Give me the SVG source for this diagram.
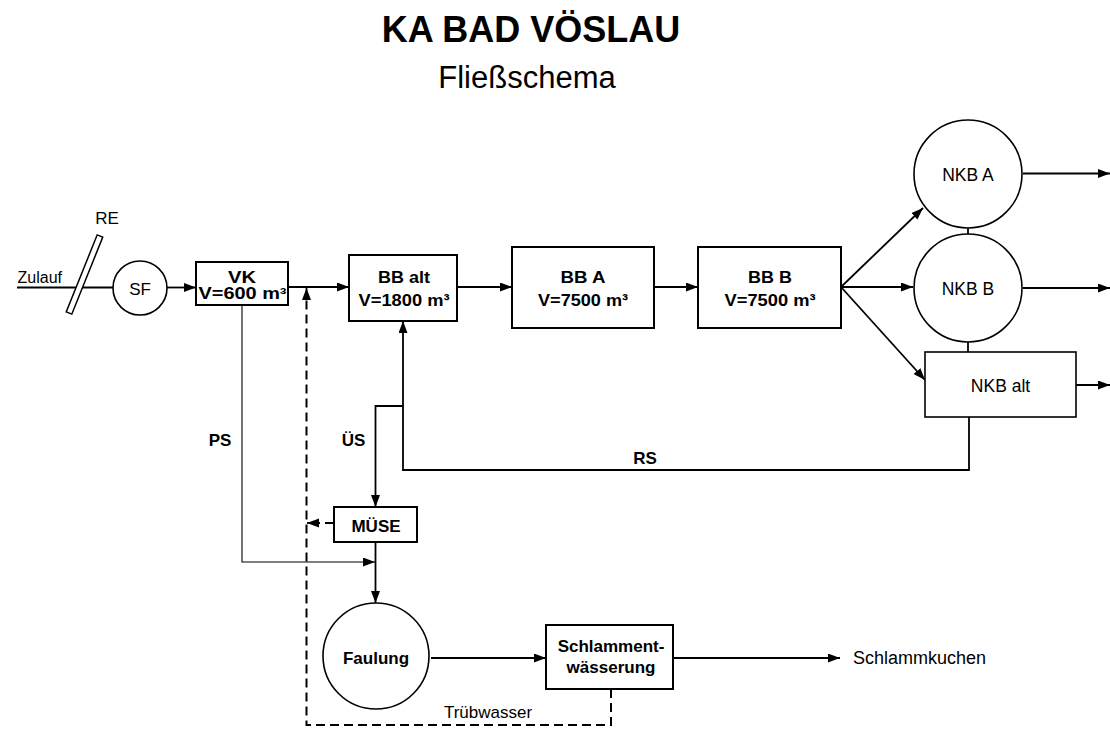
<svg xmlns="http://www.w3.org/2000/svg" width="1110" height="729" viewBox="0 0 1110 729">
  <style>
    .t { font-family: "Liberation Sans", Arial, sans-serif; fill: #000; }
    .b { font-weight: bold; }
    .c { text-anchor: middle; }
    .box { fill: #fff; stroke: #000; stroke-width: 2; }
    .tank { fill: #fff; stroke: #000; stroke-width: 1.6; }
    .flow { fill: none; stroke: #000; stroke-width: 1.8; }
    .thin { fill: none; stroke: #000; stroke-width: 1.1; }
    .dash { fill: none; stroke: #000; stroke-width: 2; stroke-dasharray: 9 5; }
  </style>
  <defs>
    <marker id="arrow" markerUnits="userSpaceOnUse" markerWidth="13" markerHeight="10" refX="12" refY="4.5" orient="auto">
      <path d="M0,0 L12,4.5 L0,9 z" fill="#000"/>
    </marker>
  </defs>

  <rect width="1110" height="729" fill="#fff"/>

  <!-- heading -->
  <text class="t b c" x="531" y="42" font-size="36">KA BAD VÖSLAU</text>
  <text class="t c" x="527" y="88" font-size="31">Fließschema</text>

  <!-- connectors -->
  <g id="connectors">
    <path class="flow" d="M17,287.5 L113,287.5"/>
    <path class="flow" d="M167,287.5 L196,287.5" marker-end="url(#arrow)"/>
    <path class="flow" d="M288,287 L349,287" marker-end="url(#arrow)"/>
    <path class="flow" d="M457,287 L512,287" marker-end="url(#arrow)"/>
    <path class="flow" d="M654,287 L698,287" marker-end="url(#arrow)"/>
    <path class="flow" d="M841,287 L923,208" marker-end="url(#arrow)"/>
    <path class="flow" d="M841,287 L913,287" marker-end="url(#arrow)"/>
    <path class="flow" d="M841,287 L925,380" marker-end="url(#arrow)"/>
    <path class="flow" d="M968,228 L968,234"/>
    <path class="flow" d="M968,342 L968,352"/>
    <path class="flow" d="M1023,173.5 L1110,173.5" marker-end="url(#arrow)"/>
    <path class="flow" d="M1023,288 L1110,288" marker-end="url(#arrow)"/>
    <path class="flow" d="M1076,385 L1110,385" marker-end="url(#arrow)"/>
    <!-- return sludge -->
    <path class="flow" d="M969,417 L969,470 L403,470 L403,321" marker-end="url(#arrow)"/>
    <!-- excess sludge -->
    <path class="flow" d="M403,406 L375.5,406 L375.5,507" marker-end="url(#arrow)"/>
    <path class="flow" d="M375.5,542 L375.5,603" marker-end="url(#arrow)"/>
    <!-- primary sludge -->
    <path class="thin" d="M242,305 L242,562 L375,562" marker-end="url(#arrow)"/>
    <path class="flow" d="M431,658 L546,658" marker-end="url(#arrow)"/>
    <path class="flow" d="M673,658 L840,658" marker-end="url(#arrow)"/>
    <!-- reject water -->
    <path class="dash" d="M611,689 L611,725 L306.5,725 L306.5,300"/>
    <path class="flow" d="M306.5,300 L306.5,288" marker-end="url(#arrow)"/>
    <path class="dash" d="M334,523 L316,523" stroke-dasharray="6 4"/>
    <path class="flow" d="M316,523 L307,523" marker-end="url(#arrow)"/>
  </g>

  <!-- labels on connectors -->
  <text class="t" x="62" y="283" font-size="16" text-anchor="end">Zulauf</text>
  <text class="t c b" x="220" y="446" font-size="17">PS</text>
  <text class="t c b" x="353.5" y="446" font-size="17">ÜS</text>
  <text class="t c b" x="645" y="464" font-size="17">RS</text>
  <text class="t c" x="488" y="718" font-size="17">Trübwasser</text>
  <text class="t" x="853" y="664" font-size="18">Schlammkuchen</text>

  <g id="re">
    <rect x="-41.5" y="-3" width="83" height="6" fill="#fff" stroke="#000" stroke-width="1.5" transform="translate(84.5,274.5) rotate(-68.1)"/>
    <text class="t c" x="107" y="224" font-size="17">RE</text>
  </g>

  <g id="sf">
    <circle class="tank" cx="140" cy="288" r="27"/>
    <text class="t c" x="140" y="294.5" font-size="17">SF</text>
  </g>

  <g id="vk">
    <rect class="box" x="196" y="262" width="92" height="43"/>
    <text class="t b c" x="242" y="282.5" font-size="16.5" textLength="28" lengthAdjust="spacingAndGlyphs">VK</text>
    <text class="t b c" x="242.5" y="299" font-size="16.5" textLength="88" lengthAdjust="spacingAndGlyphs">V=600 m³</text>
  </g>

  <g id="bb-alt">
    <rect class="box" x="349" y="255" width="108" height="66"/>
    <text class="t b c" x="404" y="283" font-size="17" textLength="52" lengthAdjust="spacingAndGlyphs">BB alt</text>
    <text class="t b c" x="404" y="305.5" font-size="17" textLength="91" lengthAdjust="spacingAndGlyphs">V=1800 m³</text>
  </g>

  <g id="bb-a">
    <rect class="box" x="512" y="247" width="142" height="81"/>
    <text class="t b c" x="583" y="283" font-size="17" textLength="45" lengthAdjust="spacingAndGlyphs">BB A</text>
    <text class="t b c" x="583" y="306" font-size="17" textLength="90" lengthAdjust="spacingAndGlyphs">V=7500 m³</text>
  </g>

  <g id="bb-b">
    <rect class="box" x="698" y="247" width="143" height="81"/>
    <text class="t b c" x="770" y="283" font-size="17" textLength="44" lengthAdjust="spacingAndGlyphs">BB B</text>
    <text class="t b c" x="770" y="306" font-size="17" textLength="91" lengthAdjust="spacingAndGlyphs">V=7500 m³</text>
  </g>

  <g id="nkb-a">
    <circle class="tank" cx="968" cy="174" r="54"/>
    <text class="t c" x="968" y="180.5" font-size="17.5">NKB A</text>
  </g>

  <g id="nkb-b">
    <circle class="tank" cx="968" cy="288" r="54"/>
    <text class="t c" x="968" y="295" font-size="17.5">NKB B</text>
  </g>

  <g id="nkb-alt">
    <rect class="tank" x="925" y="352" width="151" height="65"/>
    <text class="t c" x="1000.5" y="391.5" font-size="17.5">NKB alt</text>
  </g>

  <g id="muese">
    <rect class="box" x="334" y="507" width="83" height="35"/>
    <text class="t b c" x="376" y="531.5" font-size="17">MÜSE</text>
  </g>

  <g id="faulung">
    <circle class="tank" cx="376" cy="656" r="53"/>
    <text class="t b c" x="376" y="664" font-size="17">Faulung</text>
  </g>

  <g id="entwaesserung">
    <rect class="box" x="546" y="625" width="127" height="64"/>
    <text class="t b c" x="611" y="652" font-size="17">Schlamment-</text>
    <text class="t b c" x="611" y="673" font-size="17">wässerung</text>
  </g>
</svg>
